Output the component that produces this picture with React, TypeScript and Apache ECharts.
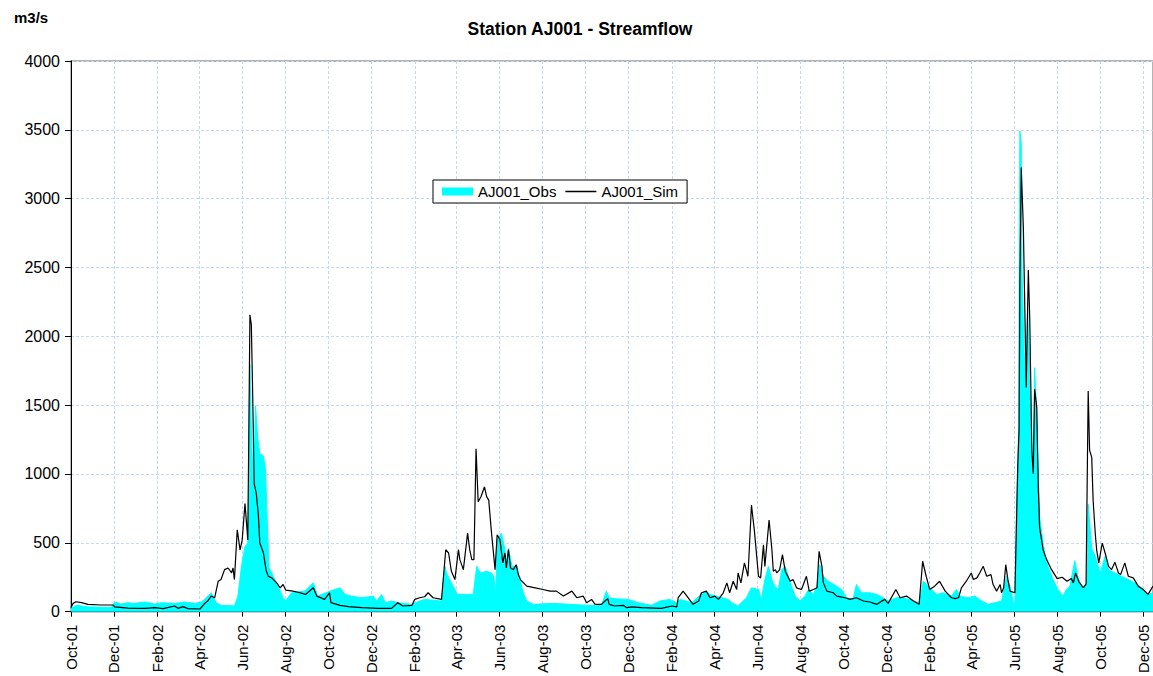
import React, { useEffect, useRef } from "react";
import * as echarts from "echarts";

const FONT = "'Liberation Sans', Arial, sans-serif";

// Daily categories from 2001-10-01 (day 0) to mid-December 2005
const START_UTC = Date.UTC(2001, 9, 1);
const DAY_COUNT = 1537;
const monthNames = ["Jan", "Feb", "Mar", "Apr", "May", "Jun", "Jul", "Aug", "Sep", "Oct", "Nov", "Dec"];
const labelMonths = [10, 12, 2, 4, 6, 8];

const categories: string[] = [];
for (let i = 0; i < DAY_COUNT; i++) {
  categories.push(new Date(START_UTC + i * 86400000).toISOString().slice(0, 10));
}

// Simulated streamflow (day offset from 2001-10-01, m3/s)
const simDays = [
  0, 3, 7, 15, 24, 43, 60, 62, 81, 105, 119, 131, 147, 152, 159, 166, 183, 190, 194, 199, 204, 209, 213, 218, 223, 228, 230, 232, 236, 240, 243, 247, 251, 254, 256, 258, 260, 263, 266, 268, 273, 277, 280, 285, 292, 297, 301, 305, 315, 325, 333, 344, 349, 360, 367, 369, 382, 394, 413, 436, 455, 464, 471, 484, 488, 495, 502, 507, 514, 526, 532, 536, 540, 545, 550, 552, 557, 563, 566, 569, 572, 575, 578, 582, 587, 590, 593, 597, 602, 605, 609, 613, 616, 618, 621, 624, 628, 632, 635, 638, 647, 659, 670, 680, 689, 699, 711, 718, 727, 732, 739, 744, 753, 758, 762, 764, 772, 784, 789, 796, 810, 838, 853, 860, 862, 869, 876, 883, 891, 895, 902, 907, 914, 919, 926, 931, 935, 940, 945, 947, 951, 956, 961, 966, 970, 976, 979, 983, 985, 991, 995, 997, 1000, 1002, 1006, 1010, 1014, 1021, 1025, 1030, 1037, 1044, 1048, 1054, 1059, 1062, 1066, 1068, 1073, 1082, 1087, 1099, 1106, 1115, 1125, 1134, 1144, 1155, 1160, 1171, 1177, 1186, 1196, 1204, 1209, 1214, 1219, 1226, 1233, 1241, 1250, 1255, 1260, 1264, 1271, 1278, 1281, 1286, 1290, 1295, 1300, 1306, 1309, 1314, 1319, 1321, 1324, 1327, 1330, 1333, 1340, 1344, 1346, 1347, 1349, 1352, 1354, 1356, 1359, 1361, 1364, 1366, 1368, 1371, 1373, 1375, 1380, 1385, 1392, 1400, 1407, 1414, 1420, 1423, 1426, 1431, 1437, 1441, 1444, 1446, 1449, 1451, 1454, 1456, 1459, 1464, 1468, 1473, 1477, 1482, 1487, 1490, 1496, 1501, 1508, 1515, 1522, 1529, 1536,
];
const simValues = [
  30, 60, 72, 65, 53, 48, 48, 34, 26, 24, 29, 22, 41, 24, 36, 22, 19, 60, 77, 113, 101, 221, 233, 305, 317, 281, 317, 233, 594, 449, 520, 786, 521, 2156, 2084, 1555, 930, 860, 700, 498, 430, 300, 257, 245, 209, 173, 197, 156, 149, 137, 125, 173, 113, 89, 137, 65, 46, 36, 29, 24, 24, 65, 41, 46, 89, 101, 108, 137, 101, 89, 450, 426, 293, 233, 450, 378, 305, 570, 450, 378, 378, 1183, 798, 835, 907, 835, 810, 570, 305, 558, 522, 354, 426, 317, 450, 317, 305, 341, 269, 233, 185, 173, 161, 149, 149, 113, 149, 101, 113, 65, 89, 53, 53, 77, 94, 53, 41, 46, 29, 34, 29, 24, 41, 34, 101, 149, 101, 53, 77, 137, 149, 101, 113, 89, 137, 209, 137, 221, 161, 281, 209, 354, 257, 774, 594, 257, 245, 486, 329, 666, 450, 293, 305, 281, 305, 414, 293, 221, 233, 173, 161, 257, 149, 161, 173, 438, 329, 209, 149, 137, 113, 101, 89, 101, 77, 70, 53, 89, 60, 161, 101, 113, 77, 53, 366, 257, 161, 185, 221, 149, 101, 94, 101, 173, 221, 281, 233, 245, 281, 329, 257, 269, 197, 149, 197, 137, 173, 341, 233, 149, 137, 1050, 1339, 2373, 3227, 2782, 2205, 1628, 2481, 2133, 1171, 1002, 1616, 1484, 930, 610, 450, 378, 305, 240, 250, 221, 240, 209, 281, 215, 175, 200, 1603, 1171, 1122, 810, 569, 449, 354, 498, 426, 329, 305, 358, 281, 269, 354, 257, 245, 185, 161, 125, 185,
];

// Observed streamflow (day offset from 2001-10-01, m3/s)
const obsDays = [
  0, 8, 24, 57, 62, 71, 81, 90, 105, 119, 128, 147, 161, 176, 185, 190, 199, 206, 213, 232, 237, 242, 247, 251, 254, 256, 259, 262, 265, 268, 273, 276, 279, 281, 285, 292, 297, 301, 304, 306, 313, 318, 332, 344, 350, 368, 382, 389, 398, 413, 429, 434, 441, 446, 455, 465, 484, 495, 502, 526, 531, 533, 540, 545, 548, 571, 576, 581, 590, 597, 600, 603, 605, 611, 616, 618, 621, 626, 633, 637, 642, 647, 656, 685, 708, 732, 744, 753, 760, 764, 772, 791, 805, 824, 836, 850, 860, 865, 881, 900, 907, 924, 933, 938, 947, 959, 966, 976, 980, 985, 990, 995, 999, 1004, 1009, 1014, 1021, 1028, 1035, 1042, 1047, 1054, 1059, 1063, 1068, 1075, 1087, 1094, 1101, 1110, 1115, 1122, 1134, 1144, 1153, 1160, 1172, 1181, 1196, 1204, 1210, 1219, 1229, 1238, 1250, 1257, 1262, 1274, 1283, 1293, 1302, 1312, 1321, 1328, 1333, 1338, 1340, 1342, 1345, 1347, 1349, 1350, 1353, 1356, 1358, 1360, 1363, 1366, 1368, 1370, 1373, 1375, 1380, 1383, 1387, 1394, 1401, 1408, 1413, 1418, 1425, 1430, 1437, 1442, 1444, 1449, 1454, 1461, 1468, 1473, 1482, 1491, 1501, 1510, 1520, 1529, 1536,
];
const obsValues = [
  25, 46, 35, 30, 70, 55, 65, 60, 70, 55, 65, 60, 70, 60, 70, 90, 137, 65, 46, 42, 113, 330, 473, 497, 1795, 1315, 882, 1495, 1267, 1147, 1130, 1040, 600, 320, 281, 200, 149, 101, 80, 89, 137, 142, 149, 209, 113, 149, 173, 125, 113, 101, 113, 77, 125, 65, 77, 65, 53, 77, 89, 77, 330, 281, 209, 161, 125, 125, 330, 281, 293, 281, 257, 137, 522, 570, 450, 354, 462, 330, 330, 233, 137, 77, 53, 60, 53, 46, 46, 46, 149, 101, 94, 89, 65, 46, 77, 89, 65, 89, 65, 149, 125, 101, 89, 65, 41, 101, 173, 161, 89, 233, 329, 233, 185, 161, 305, 329, 209, 113, 77, 113, 161, 125, 185, 341, 257, 221, 185, 161, 101, 89, 197, 137, 137, 125, 101, 77, 101, 101, 77, 65, 221, 173, 125, 137, 113, 161, 113, 101, 113, 77, 53, 65, 77, 257, 185, 60, 55, 690, 1291, 3492, 3400, 2493, 1892, 1604, 2181, 1892, 1291, 1050, 1772, 1532, 1050, 690, 498, 401, 329, 233, 161, 113, 161, 185, 370, 240, 161, 209, 780, 460, 402, 281, 402, 305, 281, 257, 233, 209, 173, 125, 137,
];

const yTicks = { min: 0, max: 4000, step: 500 };

const isLabelDay = (_index: number, value: string) =>
  value.slice(8) === "01" && labelMonths.includes(Number(value.slice(5, 7)));

const formatDay = (value: string) =>
  `${monthNames[Number(value.slice(5, 7)) - 1]}-${value.slice(2, 4)}`;

const gridBlue = "#c4daf3";
// thin horizontal bar spanning the full icon box (corner dots keep the bounding box square)
const lineIcon = "path://M0,0H0.01V0.01H0Z M0,42H100V58H0Z M99.99,99.99H100V100H99.99Z";

export default function App() {
  const ref = useRef<HTMLDivElement>(null);

  useEffect(() => {
    if (!ref.current) return;
    const chart = echarts.init(ref.current, undefined, { renderer: "svg" });
    const obsData = obsDays.map((d, i) => [d, obsValues[i]]);
    const simData = simDays.map((d, i) => [d, simValues[i]]);

    chart.setOption({
      animation: false,
      backgroundColor: "#ffffff",
      textStyle: { fontFamily: FONT },
      title: [
        {
          text: "Station AJ001 - Streamflow",
          left: 580,
          top: 20,
          padding: 0,
          textAlign: "center",
          textStyle: { fontSize: 17.5, fontWeight: "bold", color: "#000", fontFamily: FONT },
        },
        {
          text: "m3/s",
          left: 14,
          top: 10,
          padding: 0,
          textStyle: { fontSize: 15, fontWeight: "bold", color: "#000", fontFamily: FONT },
        },
      ],
      legend: {
        left: 433,
        top: 180,
        padding: [4, 9, 4, 9],
        borderColor: "#000",
        borderWidth: 1,
        backgroundColor: "#fff",
        itemWidth: 31,
        itemHeight: 8,
        itemGap: 9,
        symbolKeepAspect: false,
        textStyle: { fontSize: 15, color: "#000", fontFamily: FONT },
        data: [
          { name: "AJ001_Obs", icon: "rect" },
          { name: "AJ001_Sim", icon: lineIcon },
        ],
      },
      grid: {
        left: 71,
        right: 0,
        top: 61,
        bottom: 60,
        show: true,
        borderColor: "#9a9a9a",
        borderWidth: 1.5,
      },
      xAxis: {
        type: "category",
        data: categories,
        boundaryGap: false,
        axisLine: { lineStyle: { color: "#000", width: 1 } },
        axisTick: { show: true, interval: isLabelDay, length: 5, lineStyle: { color: "#000" } },
        axisLabel: {
          interval: isLabelDay,
          rotate: 90,
          formatter: formatDay,
          fontSize: 15,
          color: "#000",
          margin: 13,
          fontFamily: FONT,
        },
        splitLine: { show: true, interval: isLabelDay, lineStyle: { color: gridBlue, type: [3, 2] } },
      },
      yAxis: {
        type: "value",
        min: yTicks.min,
        max: yTicks.max,
        interval: yTicks.step,
        axisLine: { show: true, lineStyle: { color: "#000", width: 1 } },
        axisTick: { show: true, length: 6, lineStyle: { color: "#000" } },
        axisLabel: {
          fontSize: 16,
          color: "#000",
          margin: 11,
          fontFamily: FONT,
          formatter: (v: number) => String(v),
        },
        splitLine: { show: true, lineStyle: { color: gridBlue, type: [3, 2] } },
      },
      series: [
        {
          name: "AJ001_Obs",
          type: "line",
          data: obsData,
          symbol: "none",
          z: 2,
          itemStyle: { color: "#00ffff" },
          lineStyle: { color: "#00ffff", width: 1 },
          areaStyle: { color: "#00ffff", opacity: 1 },
        },
        {
          name: "AJ001_Sim",
          type: "line",
          data: simData,
          symbol: "none",
          z: 3,
          itemStyle: { color: "#000" },
          lineStyle: { color: "#000", width: 1.2 },
        },
      ],
    });

    return () => chart.dispose();
  }, []);

  return (
    <div
      ref={ref}
      style={{ position: "absolute", left: 0, top: 0, width: 1153, height: 676 }}
    />
  );
}
